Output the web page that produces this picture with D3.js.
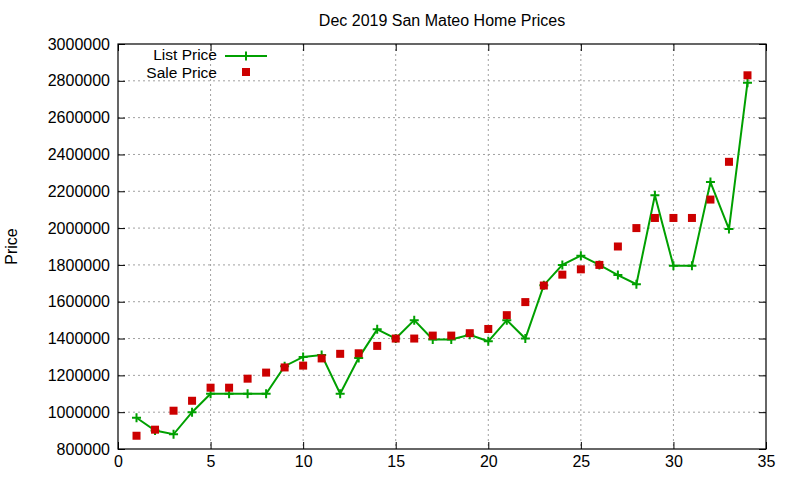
<!DOCTYPE html>
<html>
<head>
<meta charset="utf-8">
<script src="https://cdn.jsdelivr.net/npm/d3@7"></script>
<style>
  body { margin: 0; background: #fff; }
  svg { display: block; font-family: "Liberation Sans", Arial, sans-serif; }
</style>
</head>
<body>
<svg id="chart" width="800" height="480"></svg>
<script>
const homes = d3.range(1, 35);
const listPrice = [970000, 900000, 880000, 1000000, 1100000, 1100000, 1100000, 1100000, 1250000, 1300000,
    1310000, 1100000, 1295000, 1450000, 1400000, 1500000, 1395000, 1395000, 1420000, 1385000,
    1500000, 1400000, 1690000, 1800000, 1850000, 1800000, 1745000, 1695000, 2178000, 1795000,
    1795000, 2250000, 1995000, 2790000];
const salePrice = [872000, 905000, 1008000, 1062000, 1133000, 1133000, 1182000, 1215000, 1243000, 1253000,
    1292000, 1317000, 1320000, 1360000, 1400000, 1400000, 1416000, 1416000, 1429000, 1452000,
    1527000, 1598000, 1688000, 1747000, 1776000, 1800000, 1900000, 2000000, 2055000, 2055000,
    2055000, 2155000, 2360000, 2830000];
const xTicks = [0, 5, 10, 15, 20, 25, 30, 35];
const yTicks = d3.range(800000, 3000001, 200000);

const svg = d3.select("#chart"),
    margin = { top: 44, right: 34, bottom: 31, left: 118 },
    width = +svg.attr("width") - margin.left - margin.right,
    height = +svg.attr("height") - margin.top - margin.bottom;

const g = svg.append("g").attr("transform", `translate(${margin.left},${margin.top})`);

const x = d3.scaleLinear().domain([0, 35]).range([0, width]);
const y = d3.scaleLinear().domain([800000, 3000000]).range([height, 0]);

const green = "#00a000", red = "#cc0000";

// grid
g.append("g").selectAll("line").data(xTicks.slice(1, -1)).enter().append("line")
    .attr("x1", d => x(d)).attr("x2", d => x(d)).attr("y1", 0).attr("y2", height)
    .attr("stroke", "#a0a0a0").attr("stroke-dasharray", "2,3");
g.append("g").selectAll("line").data(yTicks.slice(1, -1)).enter().append("line")
    .attr("y1", d => y(d)).attr("y2", d => y(d)).attr("x1", 0).attr("x2", width)
    .attr("stroke", "#a0a0a0").attr("stroke-dasharray", "2,3");

// axes with inward ticks, mirrored
function styleAxis(sel) {
    sel.select(".domain").remove();
    sel.selectAll("line").attr("stroke", "#000");
    sel.selectAll("text").attr("fill", "#000").style("font-size", "16px");
}
g.append("g").attr("transform", `translate(0,${height})`)
    .call(d3.axisBottom(x).tickValues(xTicks).tickSizeInner(-7).tickSizeOuter(0).tickPadding(7))
    .call(styleAxis);
g.append("g")
    .call(d3.axisTop(x).tickValues(xTicks).tickSizeInner(-7).tickSizeOuter(0).tickFormat(""))
    .call(styleAxis);
g.append("g")
    .call(d3.axisLeft(y).tickValues(yTicks).tickSizeInner(-7).tickSizeOuter(0).tickPadding(8).tickFormat(d3.format("d")))
    .call(styleAxis);
g.append("g").attr("transform", `translate(${width},0)`)
    .call(d3.axisRight(y).tickValues(yTicks).tickSizeInner(-7).tickSizeOuter(0).tickFormat(""))
    .call(styleAxis);

g.append("rect").attr("width", width).attr("height", height)
    .attr("fill", "none").attr("stroke", "#000").attr("stroke-width", 1.2);

// list price line
const listData = homes.map((h, i) => ({ x: h, y: listPrice[i] }));
const saleData = homes.map((h, i) => ({ x: h, y: salePrice[i] }));

g.append("path")
    .attr("d", d3.line().x(d => x(d.x)).y(d => y(d.y))(listData))
    .attr("fill", "none").attr("stroke", green).attr("stroke-width", 2);

function plus(sel, s) {
    sel.append("path").attr("d", `M${-s},0H${s}M0,${-s}V${s}`)
        .attr("stroke", green).attr("stroke-width", 2).attr("fill", "none");
}
g.append("g").selectAll("g").data(listData).enter().append("g")
    .attr("transform", d => `translate(${x(d.x)},${y(d.y)})`)
    .each(function() { plus(d3.select(this), 4.5); });

g.append("g").selectAll("rect").data(saleData).enter().append("rect")
    .attr("x", d => x(d.x) - 4).attr("y", d => y(d.y) - 4)
    .attr("width", 8).attr("height", 8).attr("fill", red);

// legend
const legend = g.append("g");
legend.append("text").attr("x", 99).attr("y", 16).attr("text-anchor", "end")
    .style("font-size", "15.5px").text("List Price");
legend.append("line").attr("x1", 107).attr("x2", 149).attr("y1", 12).attr("y2", 12)
    .attr("stroke", green).attr("stroke-width", 2);
legend.append("g").attr("transform", "translate(128,12)").call(sel => plus(sel, 4.5));
legend.append("text").attr("x", 99).attr("y", 33.5).attr("text-anchor", "end")
    .style("font-size", "15.5px").text("Sale Price");
legend.append("rect").attr("x", 124).attr("y", 24).attr("width", 8).attr("height", 8).attr("fill", red);

// title and y label
svg.append("text").attr("x", margin.left + width / 2).attr("y", 26).attr("text-anchor", "middle")
    .style("font-size", "16px").text("Dec 2019 San Mateo Home Prices");
svg.append("text").attr("transform", `translate(17,${margin.top + height / 2}) rotate(-90)`)
    .attr("text-anchor", "middle").style("font-size", "16px").text("Price");
</script>
</body>
</html>
